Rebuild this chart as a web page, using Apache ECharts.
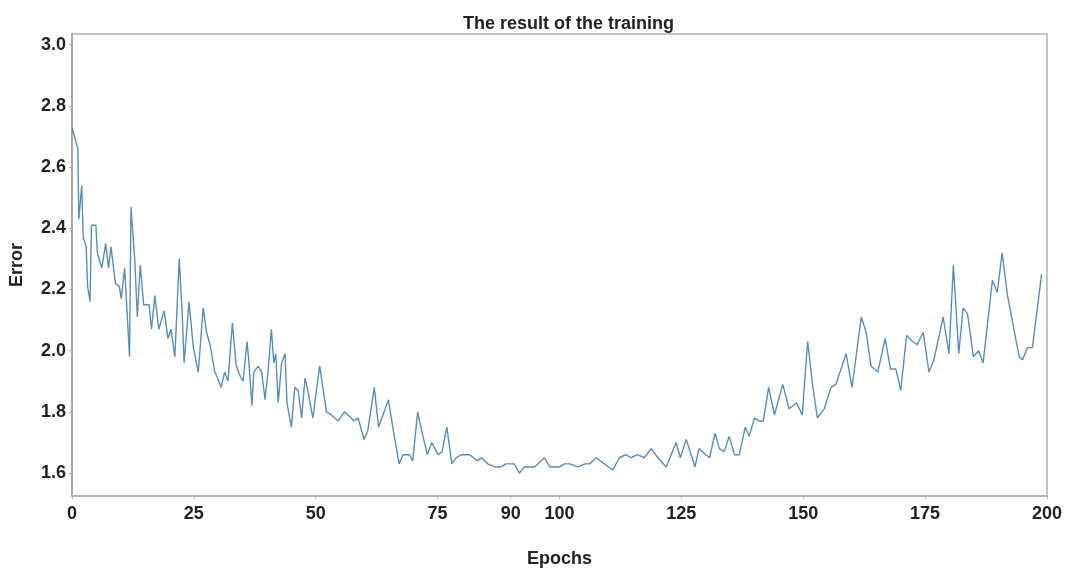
<!DOCTYPE html>
<html>
<head>
<meta charset="utf-8">
<title>The result of the training</title>
<script src="https://cdn.jsdelivr.net/npm/echarts@6/dist/echarts.min.js"></script>
<style>
  html, body { margin: 0; padding: 0; background: #fff; }
  #chart { width: 1065px; height: 573px; }
</style>
</head>
<body>
<div id="chart"></div>
<script>
// vertices (epoch, error)
const epochs = [
  0, 1.2, 1.4, 2.0, 2.3, 2.9, 3.2, 3.7, 4.0, 4.9, 5.2, 6.1, 6.9, 7.5, 8.0, 8.9, 9.7, 10.1, 10.8, 11.8,
  12.1, 12.9, 13.4, 14.0, 14.7, 15.8, 16.3, 17.0, 17.8, 18.9, 19.7, 20.3, 21.1, 22.0, 22.6, 23.0, 24.0, 24.9,
  25.9, 26.2, 26.9, 27.6, 28.3, 29.3, 29.9, 30.6, 31.3, 32.0, 32.9, 33.7, 34.4, 35.1, 35.9, 36.3, 36.9, 37.3,
  38.2, 38.9, 39.6, 40.2, 40.9, 41.4, 41.8, 42.3, 43.0, 43.7, 44.1, 45.0, 45.7, 46.4, 47.1, 47.8, 48.5, 49.4,
  50.8, 52.2, 53.2, 54.6, 55.9, 57.3, 57.8, 58.7, 59.9, 60.7, 62.0, 62.9, 64.9, 65.9, 67.1, 67.9, 69.2, 69.9,
  70.9, 72.0, 72.9, 73.8, 75.1, 75.9, 76.9, 77.9, 78.8, 79.9, 81.6, 83.1, 84.0, 85.3, 86.7, 88.0, 89.0, 90.7,
  91.8, 92.8, 94.9, 96.9, 98.0, 100.0, 101.0, 102.1, 103.8, 105.2, 106.2, 107.5, 109.2, 110.9, 112.3, 113.6,
  114.7, 116.0, 117.4, 118.8, 120.2, 121.9, 122.9, 123.9, 124.8, 126.0, 127.0, 127.8, 128.6, 130.0, 130.8,
  131.9, 132.8, 133.8, 134.8, 135.9, 136.9, 138.1, 138.9, 140.0, 141.0, 141.8, 142.9, 144.1, 145.8, 147.1,
  148.6, 149.8, 150.9, 151.9, 152.9, 154.3, 155.7, 156.7, 158.8, 160.0, 161.9, 162.9, 163.9, 165.3, 166.8,
  167.9, 169.0, 170.0, 171.2, 172.4, 173.4, 174.6, 175.8, 176.8, 178.7, 179.9, 180.8, 181.9, 182.8, 183.7,
  184.9, 186.0, 186.9, 188.8, 189.8, 190.8, 191.9, 194.3, 195.0, 196.0, 197.0, 198.9
];
const errors = [
  2.73, 2.66, 2.43, 2.54, 2.37, 2.34, 2.21, 2.16, 2.41, 2.41, 2.32, 2.27, 2.35, 2.27, 2.34, 2.22, 2.21, 2.17, 2.27, 1.98,
  2.47, 2.29, 2.11, 2.28, 2.15, 2.15, 2.07, 2.18, 2.07, 2.13, 2.04, 2.07, 1.98, 2.30, 2.12, 1.96, 2.16, 2.01,
  1.93, 1.99, 2.14, 2.06, 2.02, 1.93, 1.91, 1.88, 1.93, 1.90, 2.09, 1.95, 1.92, 1.90, 2.03, 1.96, 1.82, 1.93,
  1.95, 1.93, 1.84, 1.93, 2.07, 1.96, 1.99, 1.83, 1.96, 1.99, 1.83, 1.75, 1.88, 1.87, 1.78, 1.91, 1.86, 1.78,
  1.95, 1.80, 1.79, 1.77, 1.80, 1.78, 1.77, 1.78, 1.71, 1.74, 1.88, 1.75, 1.84, 1.74, 1.63, 1.66, 1.66, 1.64,
  1.80, 1.72, 1.66, 1.70, 1.66, 1.67, 1.75, 1.63, 1.65, 1.66, 1.66, 1.64, 1.65, 1.63, 1.62, 1.62, 1.63, 1.63,
  1.60, 1.62, 1.62, 1.65, 1.62, 1.62, 1.63, 1.63, 1.62, 1.63, 1.63, 1.65, 1.63, 1.61, 1.65, 1.66,
  1.65, 1.66, 1.65, 1.68, 1.65, 1.62, 1.66, 1.70, 1.65, 1.71, 1.66, 1.62, 1.68, 1.66, 1.65,
  1.73, 1.68, 1.67, 1.72, 1.66, 1.66, 1.75, 1.72, 1.78, 1.77, 1.77, 1.88, 1.79, 1.89, 1.81,
  1.83, 1.79, 2.03, 1.89, 1.78, 1.81, 1.88, 1.89, 1.99, 1.88, 2.11, 2.06, 1.95, 1.93, 2.04,
  1.94, 1.94, 1.87, 2.05, 2.03, 2.02, 2.06, 1.93, 1.97, 2.11, 1.99, 2.28, 1.99, 2.14, 2.12,
  1.98, 2.00, 1.96, 2.23, 2.19, 2.32, 2.18, 1.98, 1.97, 2.01, 2.01, 2.25
];
const xTicks = [0, 25, 50, 75, 90, 100, 125, 150, 175, 200];
const yTicks = [1.6, 1.8, 2.0, 2.2, 2.4, 2.6, 2.8, 3.0];

const FONT = 'Liberation Sans, Arial, sans-serif';
const chart = echarts.init(document.getElementById('chart'));

chart.setOption({
  animation: false,
  backgroundColor: '#fff',
  title: {
    text: 'The result of the training',
    left: 458,
    top: 10,
    textStyle: { fontFamily: FONT, fontSize: 18, fontWeight: 'bold', color: '#222' }
  },
  grid: {
    left: 72, right: 17, top: 34, bottom: 70,
    show: true,
    borderColor: '#c4c4c4',
    borderWidth: 2
  },
  xAxis: {
    type: 'value',
    min: 0,
    max: 200,
    name: 'Epochs',
    nameLocation: 'middle',
    nameGap: 54,
    nameTextStyle: { fontFamily: FONT, fontSize: 18, fontWeight: 'bold', color: '#222' },
    axisLine: { show: true, lineStyle: { color: '#b4b4b4', width: 2 } },
    axisTick: { show: true, length: 3, customValues: xTicks, lineStyle: { color: '#b4b4b4' } },
    axisLabel: {
      customValues: xTicks,
      margin: 9,
      fontFamily: FONT, fontSize: 18, fontWeight: 'bold', color: '#222'
    },
    splitLine: { show: false }
  },
  yAxis: {
    type: 'value',
    min: 1.525,
    max: 3.035,
    name: 'Error',
    nameLocation: 'middle',
    nameRotate: 90,
    nameGap: 46,
    nameTextStyle: { fontFamily: FONT, fontSize: 18, fontWeight: 'bold', color: '#222' },
    axisLine: { show: true, lineStyle: { color: '#a8a8a8', width: 2 } },
    axisTick: { show: true, length: 3, customValues: yTicks, lineStyle: { color: '#a8a8a8' } },
    axisLabel: {
      customValues: yTicks,
      margin: 6,
      formatter: (v) => v.toFixed(1),
      fontFamily: FONT, fontSize: 18, fontWeight: 'bold', color: '#222'
    },
    splitLine: { show: false }
  },
  series: [{
    name: 'Error',
    type: 'line',
    showSymbol: false,
    data: epochs.map((e, i) => [e, errors[i]]),
    lineStyle: { color: '#5a8db8', width: 1.4 },
    itemStyle: { color: '#5a8db8' }
  }]
});
</script>
</body>
</html>
